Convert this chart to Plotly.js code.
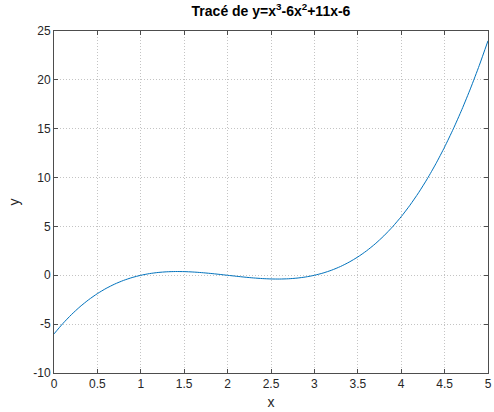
<!DOCTYPE html>
<html><head><meta charset="utf-8">
<script src="https://cdn.plot.ly/plotly-3.0.1.min.js"></script>
<style>html,body{margin:0;padding:0;background:#fff}#g{width:494px;height:412px}</style>
</head><body><div id="g"></div>
<script>
const xs = [0,0.1,0.2,0.3,0.4,0.5,0.6,0.7,0.8,0.9,1.0,1.1,1.2,1.3,1.4,1.5,1.6,1.7,1.8,1.9,2.0,2.1,2.2,2.3,2.4,2.5,2.6,2.7,2.8,2.9,3.0,3.1,3.2,3.3,3.4,3.5,3.6,3.7,3.8,3.9,4.0,4.1,4.2,4.3,4.4,4.5,4.6,4.7,4.8,4.9,5.0];
const ys = [-6,-4.959,-4.032,-3.213,-2.496,-1.875,-1.344,-0.897,-0.528,-0.231,0,0.171,0.288,0.357,0.384,0.375,0.336,0.273,0.192,0.099,0,-0.099,-0.192,-0.273,-0.336,-0.375,-0.384,-0.357,-0.288,-0.171,0,0.231,0.528,0.897,1.344,1.875,2.496,3.213,4.032,4.959,6,7.161,8.448,9.867,11.424,13.125,14.976,16.983,19.152,21.489,24];
const xTicks = [0,0.5,1,1.5,2,2.5,3,3.5,4,4.5,5];
const yTicks = [-10,-5,0,5,10,15,20,25];
const titleText = 'Tracé de y=x<sup>3</sup>-6x<sup>2</sup>+11x-6';

const ax = {
  showline:true, mirror:'ticks', linecolor:'#4d4d4d', linewidth:1,
  ticks:'inside', ticklen:4, tickcolor:'#4d4d4d',
  showgrid:true, gridcolor:'#c4c4c4', griddash:'1px,2px', gridwidth:1,
  zeroline:false, tickfont:{family:'Liberation Sans, Arial', size:12, color:'#262626'}
};
Plotly.newPlot('g', [{x:xs, y:ys, type:'scatter', mode:'lines', line:{color:'#0072BD', width:1, shape:'spline', smoothing:0.6}}], {
  width:494, height:412,
  margin:{l:54, r:6, t:31, b:39},
  paper_bgcolor:'#fff', plot_bgcolor:'#fff', showlegend:false,
  title:{text:titleText, font:{family:'Liberation Sans, Arial', size:14, color:'#000', weight:'bold'}, xref:'paper', x:0.5, xanchor:'center', yref:'container', y:0.985, yanchor:'top'},
  xaxis:Object.assign({}, ax, {range:[0,5], tickvals:xTicks, ticktext:xTicks.map(String),
    title:{text:'x', font:{family:'Liberation Sans, Arial', size:14, color:'#262626'}, standoff:6}}),
  yaxis:Object.assign({}, ax, {range:[-10,25], tickvals:yTicks, ticktext:yTicks.map(String),
    title:{text:'y', font:{family:'Liberation Sans, Arial', size:14, color:'#262626'}, standoff:10}})
}, {staticPlot:true});
</script></body></html>
